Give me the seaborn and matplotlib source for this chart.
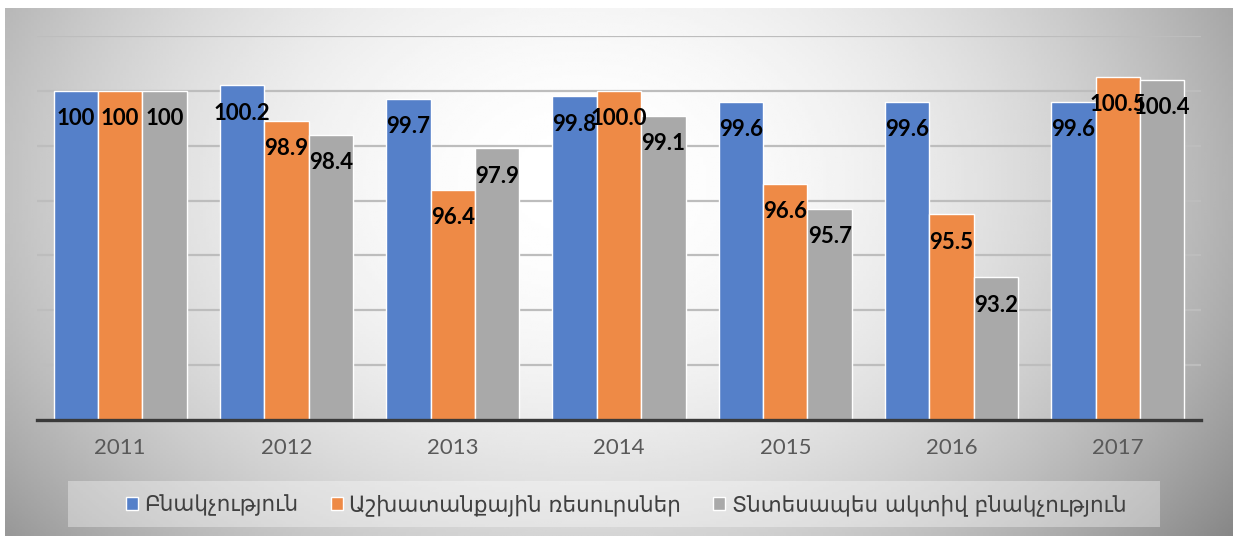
import matplotlib
matplotlib.use("Agg")
import matplotlib.pyplot as plt
from matplotlib.patches import Rectangle
import seaborn as sns
import numpy as np
import pandas as pd

years = ["2011", "2012", "2013", "2014", "2015", "2016", "2017"]
series_names = ["Բնակչություն", "Աշխատանքային ռեսուրսներ", "Տնտեսապես ակտիվ բնակչություն"]
population = [100, 100.2, 99.7, 99.8, 99.6, 99.6, 99.6]
labour = [100, 98.9, 96.4, 100.0, 96.6, 95.5, 100.5]
active = [100, 98.4, 97.9, 99.1, 95.7, 93.2, 100.4]
population_txt = ["100", "100.2", "99.7", "99.8", "99.6", "99.6", "99.6"]
labour_txt = ["100", "98.9", "96.4", "100.0", "96.6", "95.5", "100.5"]
active_txt = ["100", "98.4", "97.9", "99.1", "95.7", "93.2", "100.4"]

colors = ["#5580C9", "#EE8A46", "#A9A9A9"]

df = pd.DataFrame({
    "year": years * 3,
    "series": [s for s in series_names for _ in years],
    "value": population + labour + active,
})

sns.set_style("white")
plt.rcParams["font.family"] = ["Lato", "DejaVu Sans"]

W, H = 1233, 536
fig = plt.figure(figsize=(W / 100, H / 100), dpi=100)
fig.patch.set_facecolor("white")

# gradient background of the chart box
bg = fig.add_axes([5 / W, 0, 1 - 5 / W, 1 - 8 / H], zorder=0)
u = np.linspace(0, 1, 400)
v = np.linspace(0, 1, 200)
U, V = np.meshgrid(u, v)
d = ((U - 0.47) / 0.55) ** 2 + ((V - 0.33) / 0.95) ** 2
grad = np.clip(1 - 0.33 * d, 0, 1)
bg.imshow(grad, cmap="gray", vmin=0, vmax=1, aspect="auto", extent=(0, 1, 1, 0))
bg.set_axis_off()

ax = fig.add_axes([37 / W, 1 - 420 / H, (1201 - 37) / W, (420 - 36) / H], zorder=2)
ax.set_facecolor("none")

sns.barplot(data=df, x="year", y="value", hue="series", palette=colors,
            saturation=1, width=0.8, edgecolor="white", linewidth=1, ax=ax)
ax.set_ylim(88, 102)
ax.set_yticks(np.arange(88, 103, 2))
ax.set_yticklabels([])
ax.yaxis.grid(True, color="#bdbdbd", linewidth=1.6)
ax.set_axisbelow(True)
ax.set_xlabel("")
ax.set_ylabel("")
for side in ["top", "right", "left"]:
    ax.spines[side].set_visible(False)
ax.spines["bottom"].set_color("#3a3a3a")
ax.spines["bottom"].set_linewidth(2.4)
ax.tick_params(axis="x", length=0, pad=13, labelsize=16, labelcolor="#595959")
ax.tick_params(axis="y", length=0)

for container, texts in zip(ax.containers, [population_txt, labour_txt, active_txt]):
    for bar, txt in zip(container, texts):
        ax.annotate(txt, (bar.get_x() + bar.get_width() / 2, bar.get_height()),
                    xytext=(0, -20), textcoords="offset points",
                    ha="center", va="center", fontsize=16, fontweight="bold",
                    color="black", zorder=5)

handles, labels = ax.get_legend_handles_labels()
ax.get_legend().remove()
fig.patches.append(Rectangle((68 / W, 1 - 527 / H), (1160 - 68) / W, 46 / H,
                             transform=fig.transFigure, facecolor="white",
                             alpha=0.35, edgecolor="none", zorder=1))
leg = fig.legend(handles, labels, ncol=3, loc="center",
                 bbox_to_anchor=(0.508, 1 - 505 / H), frameon=False,
                 handlelength=0.55, handleheight=0.55, handletextpad=0.3,
                 columnspacing=1.5,
                 prop={"family": ["DejaVu Sans"], "size": 15.5})
for t in leg.get_texts():
    t.set_color("#404040")

fig.savefig("out.png", dpi=100)
